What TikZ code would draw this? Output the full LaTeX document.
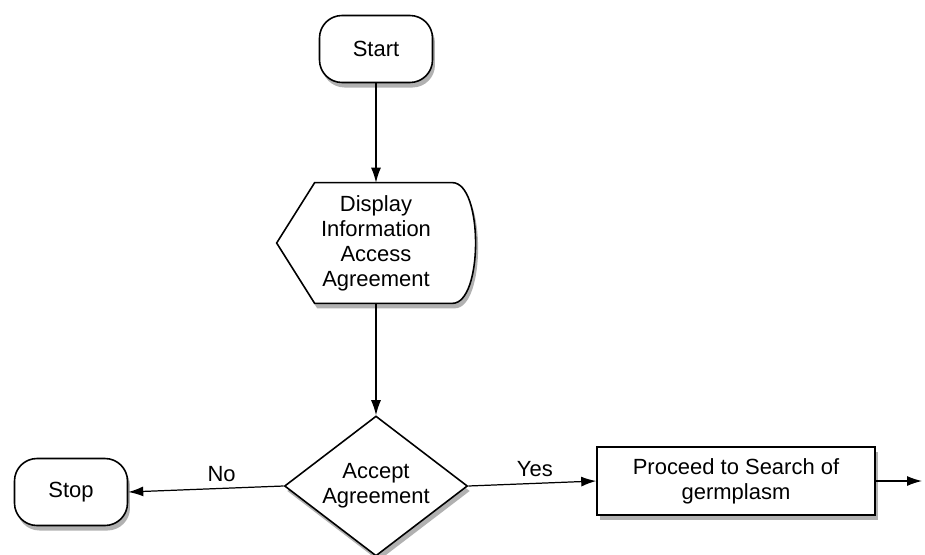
\documentclass[tikz,border=0pt]{standalone}
\usepackage{fontspec}
\setmainfont{Liberation Sans}
\usepackage{tikz}
\usetikzlibrary{arrows,arrows.meta,shapes,positioning,shadows}
\usepackage{xcolor}
\definecolor{fcshadow}{RGB}{60,60,60}
\tikzset{fcdrop/.style={drop shadow={shadow xshift=0.05cm, shadow yshift=-0.1cm, opacity=0.4, fill=fcshadow}}}
\tikzstyle{arrow} = [line width=0.7pt,->,>={Latex[length=3mm,width=2mm]}]
\tikzstyle{terminal} = [rectangle, rounded corners=0.45cm, minimum width=2.26cm, minimum height=1.34cm, text centered, draw, fill=white, line width=0.9pt, fcdrop]
\tikzstyle{process} = [rectangle, minimum width=5.56cm, minimum height=1.36cm, align=center, draw, fill=white, line width=0.9pt, fcdrop]
\tikzstyle{decision} = [diamond, aspect=1.3, inner sep=0pt, minimum width=3.66cm, minimum height=2.8cm, align=center, draw, fill=white, line width=0.9pt, fcdrop]
\tikzstyle{screen} = [rectangle, minimum width=3.96cm, minimum height=2.4cm, align=center]

\begin{document}
\begin{tikzpicture}[font=\fontsize{12.5}{14.2}\selectfont]
\useasboundingbox (-7.52,0.98) rectangle (10.98,-10.1);

% Start
\node (start) [terminal] {Start};

% Display agreement
\node (display) [screen, below of=start, node distance=3.88cm] {};
\draw[line width=0.9pt, fill=white, fcdrop] (display.west) -- ([xshift=0.76cm]display.north west)
  -- ([xshift=-0.46cm]display.north east)
  .. controls ([xshift=0.16cm]display.north east) and ([xshift=0.16cm]display.south east) .. ([xshift=-0.46cm]display.south east)
  -- ([xshift=0.76cm]display.south west) -- cycle;
\node [screen] at (display) {Display\\Information\\Access\\Agreement};

% Decision
\node (accept) [decision, below of=display, node distance=4.86cm] {Accept\\Agreement};

% Stop and proceed
\node (stop) [terminal, left of=accept, node distance=6.1cm, yshift=-0.12cm] {Stop};
\node (proceed) [process, right of=accept, node distance=7.2cm, yshift=0.1cm] {Proceed to Search of\\germplasm};
\coordinate [right of=proceed, node distance=3.72cm] (next);

% Arrows
\draw[arrow] (start.south) -- (display.north);
\draw[arrow] (display.south) -- (accept.north);
\draw[arrow] (accept.west) -- node[above, pos=0.4] {No} (stop.east);
\draw[arrow] (accept.east) -- node[above, pos=0.52] {Yes} (proceed.west);
\draw[arrow] (proceed.east) -- (next);

\end{tikzpicture}
\end{document}
